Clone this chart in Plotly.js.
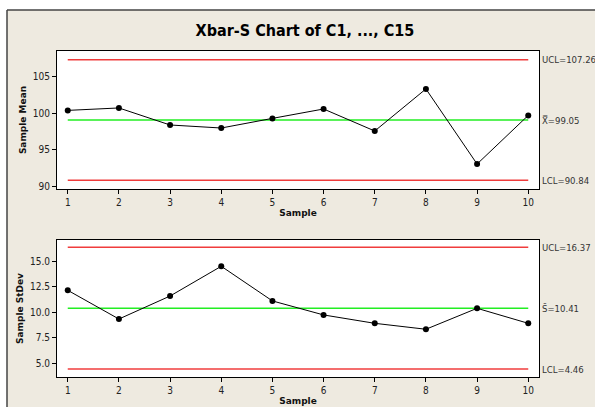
<!DOCTYPE html>
<html>
<head>
<meta charset="utf-8">
<script src="https://cdn.plot.ly/plotly-3.0.1.min.js"></script>
<style>html,body{margin:0;padding:0;background:#fff;}#chart{width:595px;height:407px;}</style>
</head>
<body>
<div id="chart"></div>
<script>
const samples = [1, 2, 3, 4, 5, 6, 7, 8, 9, 10];
const sampleMeans = [100.36, 100.69, 98.37, 97.96, 99.27, 100.55, 97.55, 103.28, 93.05, 99.68];
const sampleStDevs = [12.16, 9.35, 11.60, 14.51, 11.12, 9.75, 8.93, 8.35, 10.40, 8.93];
const xbarLimits = {UCL: 107.26, center: 99.05, LCL: 90.84};
const sLimits = {UCL: 16.37, center: 10.41, LCL: 4.46};
const xbarTicks = [90, 95, 100, 105];
const sTicks = [5.0, 7.5, 10.0, 12.5, 15.0];

const W = 595, H = 407;
const px = v => v / W;
const py = v => 1 - v / H;

const red = '#f03c3c', green = '#22ee22';
const ends = [samples[0], samples[samples.length - 1]];

function limitTrace(val, color, xa, ya) {
  return {x: ends, y: [val, val], xaxis: xa, yaxis: ya, mode: 'lines',
    line: {color: color, width: 1.5}, hoverinfo: 'skip', showlegend: false};
}
function dataTrace(vals, xa, ya) {
  return {x: samples, y: vals, xaxis: xa, yaxis: ya, mode: 'lines+markers',
    line: {color: '#000', width: 1}, marker: {color: '#000', size: 6}, showlegend: false};
}

const traces = [
  limitTrace(xbarLimits.UCL, red, 'x', 'y'),
  limitTrace(xbarLimits.LCL, red, 'x', 'y'),
  limitTrace(xbarLimits.center, green, 'x', 'y'),
  dataTrace(sampleMeans, 'x', 'y'),
  limitTrace(sLimits.UCL, red, 'x2', 'y2'),
  limitTrace(sLimits.LCL, red, 'x2', 'y2'),
  limitTrace(sLimits.center, green, 'x2', 'y2'),
  dataTrace(sampleStDevs, 'x2', 'y2')
];

const narrow = 'DejaVu Sans Condensed, Liberation Sans Narrow, Arial Narrow, sans-serif';
const tickFont = {family: narrow, size: 10, color: '#222'};
const labFont = {family: 'DejaVu Sans, Verdana, sans-serif', size: 9, color: '#111', weight: 'bold'};

const xCommon = {range: [0.79, 10.21], tickvals: samples, ticks: 'outside', ticklen: 4, tickcolor: '#000',
  showline: true, linecolor: '#000', linewidth: 1, mirror: true, showgrid: false, zeroline: false,
  tickfont: tickFont, domain: [px(57), px(539)],
  title: {text: 'Sample', font: labFont, standoff: 2}};
const yCommon = {ticks: 'outside', ticklen: 4, tickcolor: '#000', showline: true, linecolor: '#000',
  linewidth: 1, mirror: true, showgrid: false, zeroline: false, tickfont: tickFont};

const rLabFont = {family: narrow, size: 9.5, color: '#333'};
function rlab(text, y, yref) {
  return {text: text, x: px(541), xref: 'paper', xanchor: 'left', y: y, yref: yref,
    yanchor: 'middle', showarrow: false, font: rLabFont, borderpad: 0};
}
const ann = [
  rlab('UCL=' + xbarLimits.UCL.toFixed(2), xbarLimits.UCL, 'y'),
  rlab('X\u033F=' + xbarLimits.center.toFixed(2), xbarLimits.center, 'y'),
  rlab('LCL=' + xbarLimits.LCL.toFixed(2), xbarLimits.LCL, 'y'),
  rlab('UCL=' + sLimits.UCL.toFixed(2), sLimits.UCL, 'y2'),
  rlab('S\u0304=' + sLimits.center.toFixed(2), sLimits.center, 'y2'),
  rlab('LCL=' + sLimits.LCL.toFixed(2), sLimits.LCL, 'y2')
];

const layout = {
  width: W, height: H,
  margin: {l: 0, r: 0, t: 0, b: 0},
  paper_bgcolor: '#eeeae0', plot_bgcolor: '#ffffff',
  showlegend: false,
  title: {text: 'Xbar-S Chart of C1, ..., C15', font: {family: 'DejaVu Sans Condensed, DejaVu Sans, sans-serif', size: 16, color: '#000', weight: 'bold'},
    x: px(305), xanchor: 'center', y: py(30), yanchor: 'middle'},
  shapes: [
    {type: 'rect', xref: 'paper', yref: 'paper', x0: 0, x1: 1, y0: py(10), y1: 1,
      fillcolor: '#ffffff', line: {width: 0}, layer: 'below'},
    {type: 'rect', xref: 'paper', yref: 'paper', x0: 0, x1: px(7), y0: 0, y1: 1,
      fillcolor: '#ffffff', line: {width: 0}, layer: 'below'},
    {type: 'line', xref: 'paper', yref: 'paper', x0: px(7), x1: 1, y0: py(10), y1: py(10),
      line: {color: '#444', width: 1.5}},
    {type: 'line', xref: 'paper', yref: 'paper', x0: px(7), x1: px(7), y0: 0, y1: py(10),
      line: {color: '#444', width: 1.5}}
  ],
  xaxis: Object.assign({}, xCommon, {anchor: 'y'}),
  yaxis: Object.assign({}, yCommon, {range: [89.65, 108.45], tickvals: xbarTicks, domain: [py(189), py(51)], anchor: 'x',
    title: {text: 'Sample Mean', font: labFont, standoff: 4}}),
  xaxis2: Object.assign({}, xCommon, {anchor: 'y2'}),
  yaxis2: Object.assign({}, yCommon, {range: [3.68, 17.08], tickvals: sTicks, tickformat: '.1f', domain: [py(377), py(240)], anchor: 'x2',
    title: {text: 'Sample StDev', font: labFont, standoff: 4}}),
  annotations: ann
};

Plotly.newPlot('chart', traces, layout, {displayModeBar: false, staticPlot: true});
</script>
</body>
</html>
